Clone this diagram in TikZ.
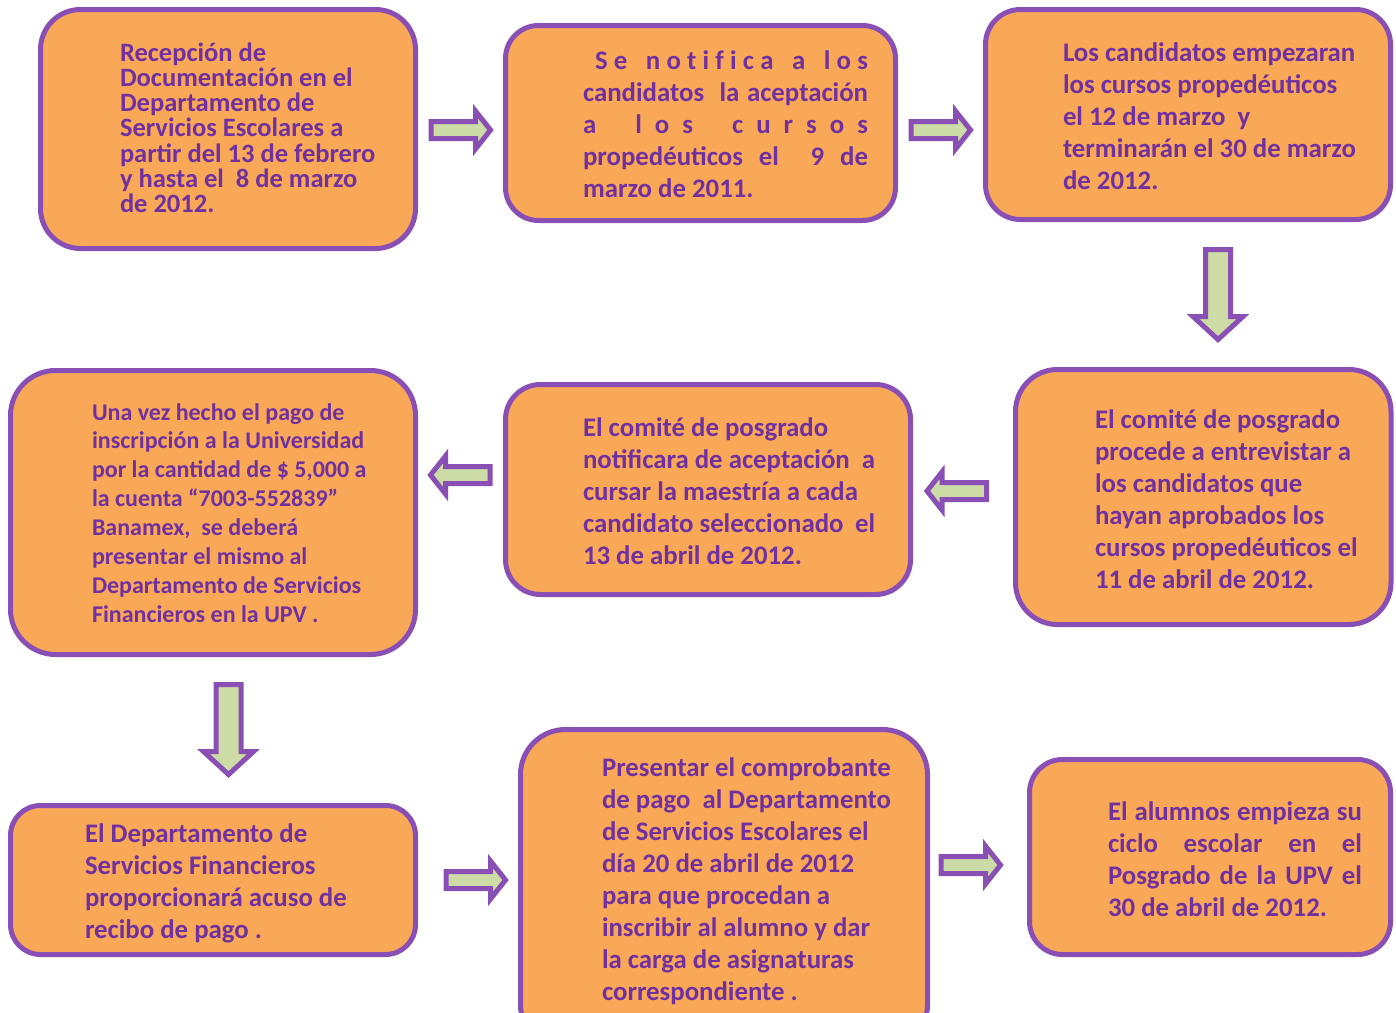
\documentclass[tikz,border=0pt]{standalone}
\usepackage{fontspec}
\setmainfont{Carlito}
\definecolor{boxfill}{HTML}{F9A857}
\definecolor{boxline}{HTML}{8A4FB5}
\definecolor{arrfill}{HTML}{CDDBA7}
\definecolor{txtcol}{HTML}{7030A0}
\tikzset{
  box/.style={draw=boxline, fill=boxfill, line width=5pt, rounded corners=#1, inner sep=0pt, outer sep=0pt, anchor=north west},
  txt/.style={anchor=base west, inner sep=0pt, outer sep=0pt, text=txtcol, font=\bfseries},
  arrsty/.style={draw=boxline, fill=arrfill, line width=5pt, line join=miter},
  harr/.pic={\draw[arrsty] (-30,-8.5) -- (14.5,-8.5) -- (14.5,-19) -- (29.5,0) -- (14.5,19) -- (14.5,8.5) -- (-30,8.5) -- cycle;},
  varr/.pic={\draw[arrsty] (-12.5,-45.5) -- (12.5,-45.5) -- (12.5,21.5) -- (25,21.5) -- (0,44.5) -- (-25,21.5) -- (-12.5,21.5) -- cycle;}
}
\newcommand{\bigtxt}{\fontsize{26.8}{32}\selectfont\lineskiplimit=-100pt}
\begin{document}
\begin{tikzpicture}[x=1pt,y=-1pt]
\useasboundingbox (0,0) rectangle (1396,1012);
\clip (0,0) rectangle (1396,1012);
% boxes
\node[box=40, minimum width=375pt, minimum height=239pt] (b1) at (40.5,9.5) {};
\node[box=33, minimum width=390pt, minimum height=195pt] (b2) at (505.5,25.5) {};
\node[box=35, minimum width=405pt, minimum height=210pt] (b3) at (985.5,9.5) {};
\node[box=42, minimum width=375.5pt, minimum height=255pt] (b4) at (1015.5,369.5) {};
\node[box=35, minimum width=405pt, minimum height=210pt] (b5) at (505.5,384.5) {};
\node[box=45, minimum width=405pt, minimum height=284pt] (b6) at (10.5,370.5) {};
\node[box=30, minimum width=405pt, minimum height=149pt] (b7) at (10.5,805.5) {};
\node[box=45, minimum width=407pt, minimum height=320pt] (b8) at (520.5,729.5) {};
\node[box=33, minimum width=361pt, minimum height=195pt] (b9) at (1029.5,759.5) {};
% arrows
\pic (a1) at (461,130) {harr};
\pic (a2) at (941,130) {harr};
\pic (a3) at (1218,295) {varr};
\pic[xscale=-1] (a4) at (956.5,491) {harr};
\pic[xscale=-1] (a5) at (460,475) {harr};
\pic (a6) at (228.5,730) {varr};
\pic (a7) at (476,880) {harr};
\pic (a8) at (971,865) {harr};
% texts
\node[txt] (t1) at (120,61) {\parbox[t]{290pt}{\fontsize{26.5}{25.3}\selectfont\lineskiplimit=-100pt
Recepción de\\
Documentación en el\\
Departamento de\\
Servicios Escolares a\\
partir del 13 de febrero\\
y hasta el\ \ 8 de marzo\\
de 2012.}};
\node[txt] (t2) at (583,69) {\parbox[t]{285pt}{\bigtxt
\makebox[\linewidth][s]{\hspace*{12pt}S\hfil e\hfil\hfil\hfil n\hfil o\hfil t\hfil i\hfil f\hfil i\hfil c\hfil a\hfil\hfil\hfil a\hfil\hfil\hfil l\hfil o\hfil s}\\
\makebox[\linewidth][s]{candidatos\ \ la aceptación}\\
\makebox[\linewidth][s]{a\hfil\hfil\hfil l\hfil o\hfil s\hfil\hfil\hfil c\hfil u\hfil r\hfil s\hfil o\hfil s}\\
\makebox[\linewidth][s]{propedéuticos\hfil el\hfil\hfil 9\hfil de}\\
marzo de 2011.}};
\node[txt] (t3) at (1063,61) {\parbox[t]{310pt}{\bigtxt
Los candidatos empezaran\\
los cursos propedéuticos\\
el 12 de marzo\ \ y\\
terminarán el 30 de marzo\\
de 2012.}};
\node[txt] (t4) at (1095,428) {\parbox[t]{280pt}{\bigtxt
El comité de posgrado\\
procede a entrevistar a\\
los candidatos que\\
hayan aprobados los\\
cursos propedéuticos el\\
11 de abril de 2012.}};
\node[txt] (t5) at (583,436) {\parbox[t]{292pt}{\bigtxt
El comité de posgrado\\
\makebox[\linewidth][s]{notificara de aceptación\hfill a}\\
cursar la maestría a cada\\
\makebox[\linewidth][s]{candidato seleccionado\hfill el}\\
13 de abril de 2012.}};
\node[txt] (t6) at (92,420) {\parbox[t]{300pt}{\fontsize{24}{28.9}\selectfont\lineskiplimit=-100pt
Una vez hecho el pago de\\
inscripción a la Universidad\\
por la cantidad de \$ 5,000 a\\
la cuenta “7003-552839”\\
Banamex,\ \ se deberá\\
presentar el mismo al\\
Departamento de Servicios\\
Financieros en la UPV .}};
\node[txt] (t7) at (85,842) {\parbox[t]{300pt}{\bigtxt
El Departamento de\\
Servicios Financieros\\
proporcionará acuso de\\
recibo de pago .}};
\node[txt] (t8) at (602,776) {\parbox[t]{300pt}{\bigtxt
Presentar el comprobante\\
de pago\ \ al Departamento\\
de Servicios Escolares el\\
día 20 de abril de 2012\\
para que procedan a\\
inscribir al alumno y dar\\
la carga de asignaturas\\
correspondiente .}};
\node[txt] (t9) at (1108,820) {\parbox[t]{254pt}{\bigtxt
\makebox[\linewidth][s]{El alumnos empieza su}\\
\makebox[\linewidth][s]{ciclo escolar en el}\\
\makebox[\linewidth][s]{Posgrado de la UPV el}\\
30 de abril de 2012.}};
\end{tikzpicture}
\end{document}
